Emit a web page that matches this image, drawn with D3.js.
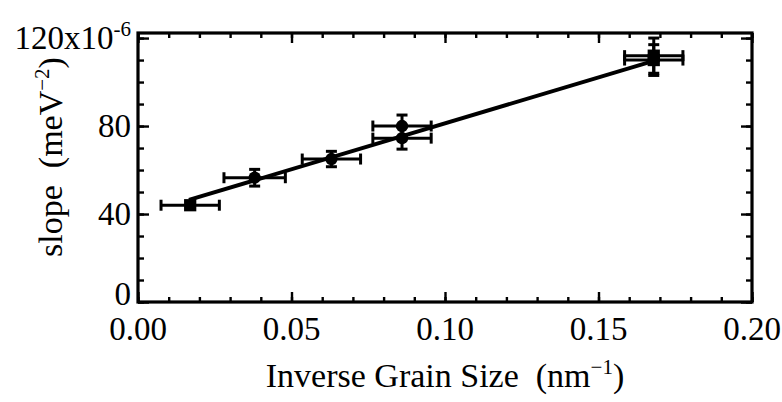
<!DOCTYPE html>
<html>
<head>
<meta charset="utf-8">
<script src="https://cdn.jsdelivr.net/npm/d3@7"></script>
<style>
	body { margin: 0; background: #fff; }
	text { font-family: 'Liberation Serif', 'Times New Roman', serif; fill: #000; }
</style>
</head>
<body>
<div id="chart"></div>
<script>
// data
const pointX = [ 0.017, 0.038, 0.063, 0.086, 0.086, 0.168, 0.168 ];
const pointY = [ 44, 56.5, 65, 80, 74.5, 112, 110 ];
const errX = [ 0.0095, 0.01, 0.0095, 0.0095, 0.0095, 0.0095, 0.0095 ];
const errY = [ 1.5, 3.8, 3.5, 5, 5, 8, 7 ];
const shapes = [ 'square', 'circle', 'circle', 'circle', 'circle', 'square', 'square' ];
const fitX = [ 0.0166, 0.168 ];
const fitY = [ 46.4, 109.6 ];
const xTicks = [ 0, 0.05, 0.1, 0.15, 0.2 ];
const yTicks = [ 0, 40, 80, 120 ];

let dimensions = {
	width  : 782,
	height : 402,
	margin : {
		top    : 33,
		right  : 30,
		bottom : 100,
		left   : 138
	}
};
dimensions.boundedWidth = dimensions.width - dimensions.margin.left - dimensions.margin.right;
dimensions.boundedHeight = dimensions.height - dimensions.margin.top - dimensions.margin.bottom;

const svg = d3
	.select('#chart')
	.append('svg')
	.attr('width', dimensions.width)
	.attr('height', dimensions.height);

const bounds = svg.append('g').attr('transform', `translate(${dimensions.margin.left}, ${dimensions.margin.top})`);

const x = d3.scaleLinear().domain([ 0, 0.2 ]).range([ 0, dimensions.boundedWidth ]);
const y = d3.scaleLinear().domain([ 0, 122.3 ]).range([ dimensions.boundedHeight, 0 ]);

const xMinor = d3.range(0, 0.2001, 0.01);
const yMinor = d3.range(0, 120.1, 10);

// inward ticks on all four sides
function drawTicks(gen, values, size, transform) {
	const g = bounds.append('g').attr('transform', transform).call(gen.tickValues(values).tickSize(size).tickFormat(''));
	g.select('.domain').remove();
	g.selectAll('line').attr('stroke', '#000').attr('stroke-width', 2.4);
}
drawTicks(d3.axisBottom(x), xMinor, -5, `translate(0, ${dimensions.boundedHeight})`);
drawTicks(d3.axisBottom(x), xTicks, -10, `translate(0, ${dimensions.boundedHeight})`);
drawTicks(d3.axisTop(x), xMinor, -5, 'translate(0, 0)');
drawTicks(d3.axisTop(x), xTicks, -10, 'translate(0, 0)');
drawTicks(d3.axisLeft(y), yMinor, -6, 'translate(0, 0)');
drawTicks(d3.axisLeft(y), yTicks, -11, 'translate(0, 0)');
drawTicks(d3.axisRight(y), yMinor, -6, `translate(${dimensions.boundedWidth}, 0)`);
drawTicks(d3.axisRight(y), yTicks, -11, `translate(${dimensions.boundedWidth}, 0)`);

// frame
bounds
	.append('rect')
	.attr('width', dimensions.boundedWidth)
	.attr('height', dimensions.boundedHeight)
	.attr('fill', 'none')
	.attr('stroke', '#000')
	.attr('stroke-width', 3.2);

// tick labels
const fontSize = 33;
const supSize = 21;
bounds
	.selectAll('.xlabel')
	.data(xTicks)
	.enter()
	.append('text')
	.attr('x', (d) => x(d))
	.attr('y', dimensions.boundedHeight + 38)
	.attr('text-anchor', 'middle')
	.attr('font-size', fontSize)
	.text(d3.format('.2f'));

bounds
	.selectAll('.ylabel')
	.data(yTicks)
	.enter()
	.append('text')
	.attr('x', -7)
	.attr('y', (d) => y(d) + (d === 0 ? 3 : 11))
	.attr('text-anchor', 'end')
	.attr('font-size', fontSize)
	.each(function(d) {
		const t = d3.select(this);
		if (d === 120) {
			t.append('tspan').text('120x10');
			t.append('tspan').attr('dy', -13).attr('font-size', supSize).text('-6');
		} else {
			t.text(d);
		}
	});

// axis titles
const xTitle = svg
	.append('text')
	.attr('x', dimensions.margin.left + dimensions.boundedWidth / 2)
	.attr('y', 387)
	.attr('text-anchor', 'middle')
	.attr('font-size', 34)
	.attr('xml:space', 'preserve');
xTitle.append('tspan').text('Inverse Grain Size  (nm');
xTitle.append('tspan').attr('dy', -13).attr('font-size', supSize).text('\u22121');
xTitle.append('tspan').attr('dy', 13).text(')');

const yTitle = svg
	.append('text')
	.attr('transform', 'translate(62, 157) rotate(-90)')
	.attr('text-anchor', 'middle')
	.attr('font-size', 34)
	.attr('xml:space', 'preserve');
yTitle.append('tspan').text('slope  (meV');
yTitle.append('tspan').attr('dy', -13).attr('font-size', supSize).text('\u22122');
yTitle.append('tspan').attr('dy', 13).text(')');

// fit line
const fit = fitX.map((d, i) => [ d, fitY[i] ]);
bounds
	.append('path')
	.datum(fit)
	.attr('fill', 'none')
	.attr('stroke', '#000')
	.attr('stroke-width', 4)
	.attr('d', d3.line().x((d) => x(d[0])).y((d) => y(d[1])));

// error bars and markers
const points = pointX.map((d, i) => ({ x: d, y: pointY[i], ex: errX[i], ey: errY[i], shape: shapes[i] }));
const cap = 5.5;
const pg = bounds.selectAll('.pt').data(points).enter().append('g').attr('stroke', '#000').attr('stroke-width', 3);

pg.append('line')
	.attr('x1', (d) => x(d.x - d.ex))
	.attr('x2', (d) => x(d.x + d.ex))
	.attr('y1', (d) => y(d.y))
	.attr('y2', (d) => y(d.y));
pg.append('line')
	.attr('x1', (d) => x(d.x - d.ex))
	.attr('x2', (d) => x(d.x - d.ex))
	.attr('y1', (d) => y(d.y) - cap)
	.attr('y2', (d) => y(d.y) + cap);
pg.append('line')
	.attr('x1', (d) => x(d.x + d.ex))
	.attr('x2', (d) => x(d.x + d.ex))
	.attr('y1', (d) => y(d.y) - cap)
	.attr('y2', (d) => y(d.y) + cap);
pg.append('line')
	.attr('x1', (d) => x(d.x))
	.attr('x2', (d) => x(d.x))
	.attr('y1', (d) => y(d.y - d.ey))
	.attr('y2', (d) => y(d.y + d.ey));
pg.append('line')
	.attr('x1', (d) => x(d.x) - cap)
	.attr('x2', (d) => x(d.x) + cap)
	.attr('y1', (d) => y(d.y + d.ey))
	.attr('y2', (d) => y(d.y + d.ey));
pg.append('line')
	.attr('x1', (d) => x(d.x) - cap)
	.attr('x2', (d) => x(d.x) + cap)
	.attr('y1', (d) => y(d.y - d.ey))
	.attr('y2', (d) => y(d.y - d.ey));

pg.append('path')
	.attr('stroke', 'none')
	.attr('fill', '#000')
	.attr('transform', (d) => `translate(${x(d.x)}, ${y(d.y)})`)
	.attr('d', (d) => d3.symbol().type(d.shape === 'square' ? d3.symbolSquare : d3.symbolCircle).size(d.shape === 'square' ? 150 : 120)());
</script>
</body>
</html>
